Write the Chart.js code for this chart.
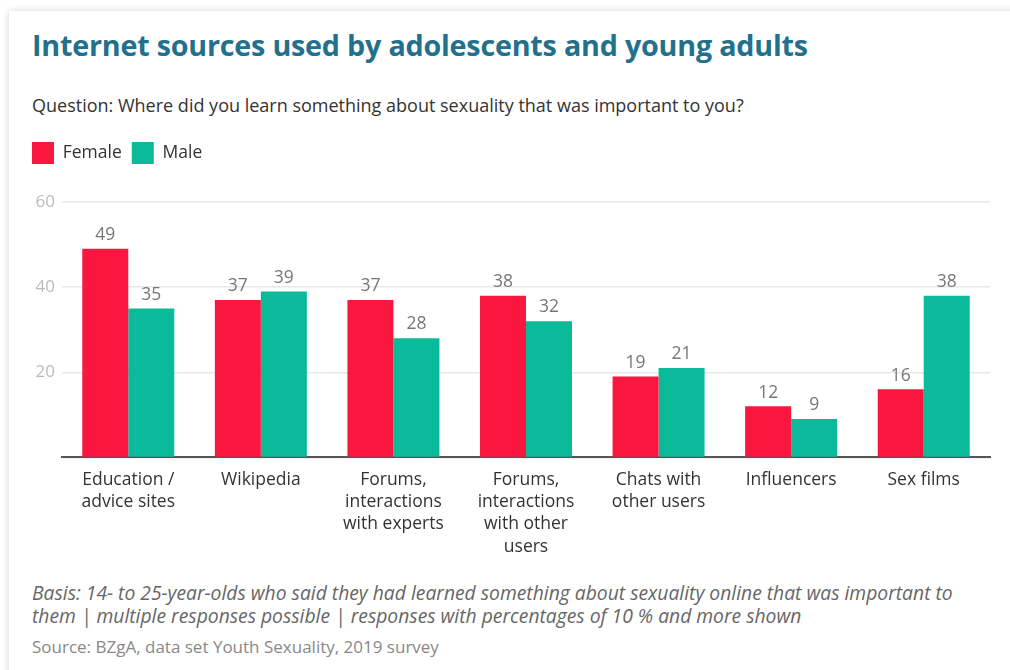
<!DOCTYPE html>
<html>
<head>
<meta charset="utf-8">
<script src="https://cdn.jsdelivr.net/npm/chart.js@4.4.1/dist/chart.umd.min.js"></script>
<style>
  html, body { margin: 0; padding: 0; background: #fff; }
  body { width: 1010px; height: 670px; overflow: hidden; position: relative; font-family: "Open Sans", sans-serif; }
  .card { position: absolute; left: 9px; top: 11px; width: 1020px; height: 680px; background: #fff;
          box-shadow: 0 0 7px rgba(0,0,0,0.18); }
  h1 { position: absolute; left: 23px; top: 14px; margin: 0; font-size: 28.7px; font-weight: 700; color: #23708c; white-space: nowrap; letter-spacing: -0.2px; }
  .question { position: absolute; left: 23px; top: 82px; font-size: 18px; color: #333; white-space: nowrap; }
  .chart { position: absolute; left: -9px; top: 121px; width: 1000px; height: 429px; }
  .basis { position: absolute; left: 23px; top: 570px; font-size: 19.3px; font-style: italic; color: #666; line-height: 23px; width: 935px; }
  .source { position: absolute; left: 23px; top: 624px; font-size: 17px; color: #888; white-space: nowrap; }
</style>
</head>
<body>
<div class="card">
  <h1>Internet sources used by adolescents and young adults</h1>
  <div class="question">Question: Where did you learn something about sexuality that was important to you?</div>
  <div class="chart"><canvas id="sourcesChart" width="1000" height="429"></canvas></div>
  <div class="basis">Basis: 14- to 25-year-olds who said they had learned something about sexuality online that was important to them | multiple responses possible | responses with percentages of 10 % and more shown</div>
  <div class="source">Source: BZgA, data set Youth Sexuality, 2019 survey</div>
</div>
<script>
const categories = [
    ['Education /', 'advice sites'],
    'Wikipedia',
    ['Forums,', 'interactions', 'with experts'],
    ['Forums,', 'interactions', 'with other', 'users'],
    ['Chats with', 'other users'],
    'Influencers',
    'Sex films'
];
const female = [49, 37, 37, 38, 19, 12, 16];
const male = [35, 39, 28, 32, 21, 9, 38];
const yTicks = [20, 40, 60];

const fontFamily = '"Open Sans", sans-serif';

// value labels above the bars
const barValues = {
    id: 'barValues',
    afterDatasetsDraw(chart) {
        const ctx = chart.ctx;
        ctx.save();
        ctx.font = '17.5px ' + fontFamily;
        ctx.fillStyle = '#777';
        ctx.textAlign = 'center';
        ctx.textBaseline = 'bottom';
        chart.data.datasets.forEach((ds, i) => {
            chart.getDatasetMeta(i).data.forEach((bar, j) => {
                ctx.fillText(ds.data[j], bar.x, bar.y - 5);
            });
        });
        ctx.restore();
    }
};

// extra space under the legend
const legendGap = {
    id: 'legendGap',
    afterInit(chart) {
        if (!chart.legend) return;
        const fit = chart.legend.fit;
        chart.legend.fit = function () {
            fit.call(this);
            this.height += 28;
        };
    }
};

document.addEventListener('DOMContentLoaded', function () {
    const ctx = document.getElementById('sourcesChart').getContext('2d');
    new Chart(ctx, {
        type: 'bar',
        data: {
            labels: categories,
            datasets: [
                { label: 'Female', data: female, backgroundColor: '#f9173f' },
                { label: 'Male', data: male, backgroundColor: '#0bb99b' }
            ]
        },
        options: {
            responsive: false,
            animation: false,
            layout: { padding: { left: 22, right: 10, top: 0, bottom: 0 } },
            datasets: { bar: { categoryPercentage: 0.694, barPercentage: 1.0 } },
            plugins: {
                legend: {
                    position: 'top',
                    align: 'start',
                    labels: {
                        boxWidth: 22, boxHeight: 22, padding: 10,
                        color: '#333',
                        font: { family: fontFamily, size: 17.5 }
                    }
                },
                tooltip: { enabled: false }
            },
            scales: {
                x: {
                    grid: { display: false },
                    border: { display: true, color: '#555', width: 2 },
                    ticks: {
                        color: '#333', padding: 3, maxRotation: 0, autoSkip: false,
                        font: { family: fontFamily, size: 17.5, lineHeight: 1.28 }
                    }
                },
                y: {
                    min: 0, max: 60,
                    afterBuildTicks(axis) { axis.ticks = [0].concat(yTicks).map(v => ({ value: v })); },
                    afterFit(axis) { axis.width = 40; },
                    grid: { color: '#e8e8e8', lineWidth: 1.5, drawTicks: false },
                    border: { display: false },
                    ticks: {
                        color: '#bbb', padding: 7,
                        font: { family: fontFamily, size: 17 },
                        callback: v => (v === 0 ? '' : v)
                    }
                }
            }
        },
        plugins: [barValues, legendGap]
    });
});
</script>
</body>
</html>
